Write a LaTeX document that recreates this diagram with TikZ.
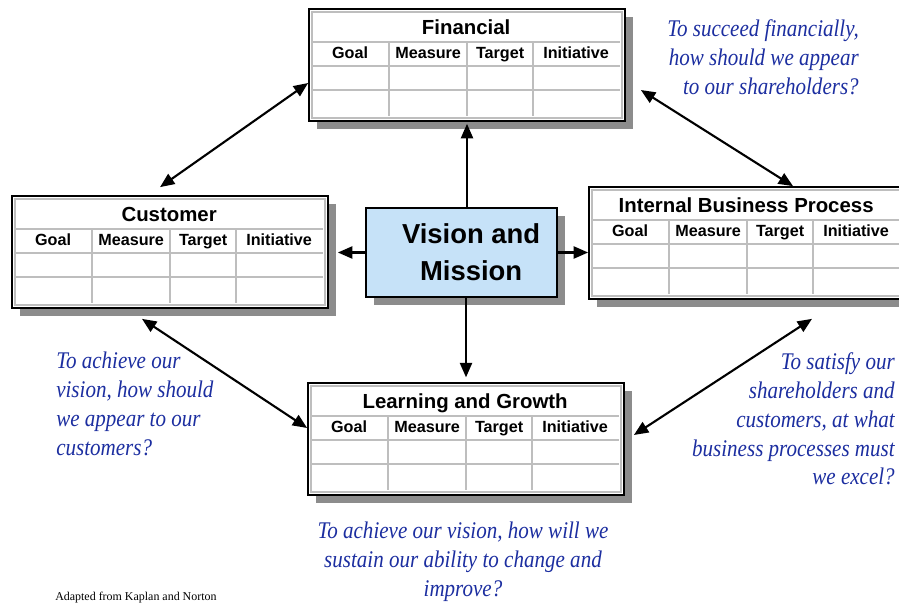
\documentclass[tikz,border=0pt]{standalone}
\usepackage{fontspec}
\setmainfont{Liberation Serif}
\setsansfont{Liberation Sans}
\newfontfamily\qfont{Liberation Serif}[FakeStretch=0.88]
\usetikzlibrary{arrows.meta,shadows}
\definecolor{qblue}{RGB}{28,46,160}
\definecolor{visfill}{RGB}{198,226,248}
\definecolor{gridgray}{RGB}{190,190,190}

\begin{document}
\begin{tikzpicture}[x=0.025cm,y=-0.025cm]
		\tikzstyle{card} = [draw,line width=1.2pt,fill=white,minimum width=7.9cm,minimum height=2.8cm,inner sep=0pt,drop shadow={shadow xshift=0.2cm,shadow yshift=-0.2cm,fill=black!45,opacity=1}]
		\tikzstyle{grid} = [draw=gridgray,line width=1.4pt]
		\tikzstyle{ttl}  = [font=\sffamily\bfseries\fontsize{14.5}{16}\selectfont,anchor=base,inner sep=0pt]
		\tikzstyle{head} = [font=\sffamily\bfseries\fontsize{11.5}{13}\selectfont,anchor=base,inner sep=0pt]
		\tikzstyle{arr}  = [-{Triangle[length=0.36cm,width=0.3cm]},line width=1.5pt]
		\tikzstyle{link} = [{Triangle[length=0.36cm,width=0.3cm]}-{Triangle[length=0.36cm,width=0.3cm]},line width=1.5pt]
		\tikzstyle{ask}  = [text=qblue,font=\qfont\itshape\fontsize{17}{20.6}\selectfont,inner sep=0pt]
		
		\useasboundingbox (0,0) rectangle (899,603);
		\clip (0,0) rectangle (899,603);
		
		% the four perspectives
		\foreach \n/\cx/\cy/\t in {fin/467/65/Financial, cus/170/252/Customer, ibp/747/243/Internal Business Process, lrn/466/439/Learning and Growth} {
			\node[card] (\n) at (\cx,\cy) {};
			\draw[grid] ([shift={(4,4)}]\n.north west) rectangle ([shift={(-4,-4)}]\n.south east);
			\foreach \r in {34,58,82}
				\draw[grid] ([shift={(4,\r)}]\n.north west) -- ([shift={(312,\r)}]\n.north west);
			\foreach \c in {81,159,225}
				\draw[grid] ([shift={(\c,34)}]\n.north west) -- ([shift={(\c,108)}]\n.north west);
			\node[ttl] at ([shift={(158,26)}]\n.north west) {\t};
			\foreach \c/\h in {42/Goal,120/Measure,192/Target,268/Initiative}
				\node[head] at ([shift={(\c,50)}]\n.north west) {\h};
		}
		
		\node[draw,line width=1pt,fill=visfill,minimum width=4.775cm,minimum height=2.225cm,drop shadow={shadow xshift=0.2cm,shadow yshift=-0.2cm,fill=black!45,opacity=1}] (vis) at (461.5,252.5) {};
		\node[align=center,font=\sffamily\bfseries\fontsize{19.5}{26.3}\selectfont] (vistxt) at ([xshift=0.24cm]vis.center) {Vision and\\Mission};
		
		\draw[arr,shorten >=0.05cm] (vis.north -| fin.south) -- (fin.south);
		\draw[arr,shorten >=0.12cm] (vis.south -| lrn.north) -- (lrn.north);
		\draw[arr,shorten >=0.225cm] (vis.west) -- (vis.west -| cus.east);
		\draw[arr] (vis.east) -- (vis.east -| ibp.west);
		
		\draw[link] ([shift={(-10,-8)}]cus.north) -- ([shift={(0,18)}]fin.west);
		\draw[link] ([shift={(15,25)}]fin.east) -- ([shift={(46,0)}]ibp.north);
		\draw[link] ([shift={(-28,10)}]cus.south) -- ([shift={(0,-11)}]lrn.west);
		\draw[link] ([shift={(65,19)}]ibp.south) -- ([shift={(9,-4)}]lrn.east);
		
		% questions
		\node[ask,align=right,anchor=north east] (q1) at (859,19) {To succeed financially,\\how should we appear\\to our shareholders?};
		\node[ask,align=left,anchor=north west] (q2) at (56,352) {To achieve our\\vision, how should\\we appear to our\\customers?};
		\node[ask,align=right,anchor=north east] (q3) at (895,352) {To satisfy our\\shareholders and\\customers, at what\\business processes must\\we excel?};
		\node[ask,align=center,anchor=north] (q4) at (463,522) {To achieve our vision, how will we\\sustain our ability to change and\\improve?};
		
		\node[font=\fontsize{8.5}{10}\selectfont,anchor=base west,inner sep=0pt] (src) at (55,600) {Adapted from Kaplan and Norton};
	\end{tikzpicture}
\end{document}
